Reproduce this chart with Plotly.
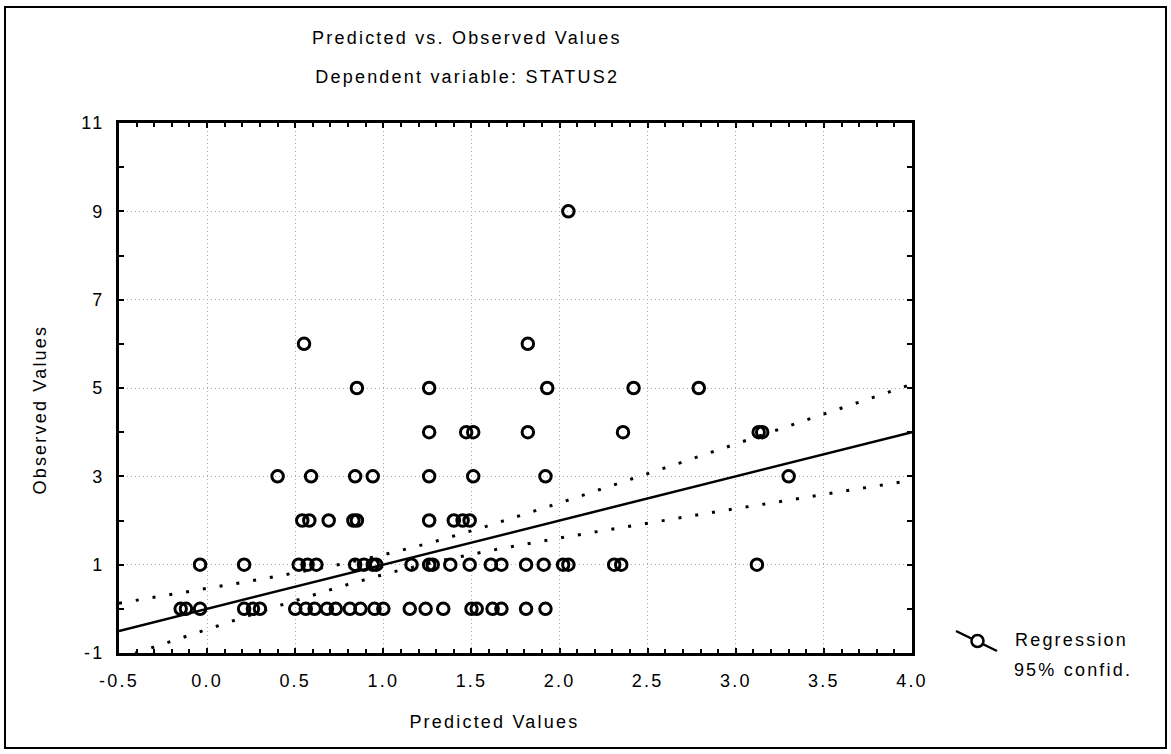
import numpy as np
import plotly.graph_objects as go

pred_obs0 = [-0.15, -0.12, -0.04, 0.21, 0.26, 0.30, 0.50, 0.56, 0.61, 0.68, 0.73, 0.81,
             0.87, 0.95, 1.00, 1.15, 1.24, 1.34, 1.50, 1.53, 1.62, 1.67, 1.81, 1.92]
pred_obs1 = [-0.04, 0.21, 0.52, 0.57, 0.62, 0.84, 0.89, 0.94, 0.96, 1.16, 1.26, 1.28,
             1.38, 1.49, 1.61, 1.67, 1.81, 1.91, 2.02, 2.05, 2.31, 2.35, 3.12]
pred_obs2 = [0.54, 0.58, 0.69, 0.83, 0.85, 1.26, 1.40, 1.45, 1.49]
pred_obs3 = [0.40, 0.59, 0.84, 0.94, 1.26, 1.51, 1.92, 3.30]
pred_obs4 = [1.26, 1.47, 1.51, 1.82, 2.36, 3.13, 3.15]
pred_obs5 = [0.85, 1.26, 1.93, 2.42, 2.79]
pred_obs6 = [0.55, 1.82]
pred_obs9 = [2.05]

groups = {0: pred_obs0, 1: pred_obs1, 2: pred_obs2, 3: pred_obs3, 4: pred_obs4,
          5: pred_obs5, 6: pred_obs6, 9: pred_obs9}

# Regression line and 95% confidence band parameters
reg_intercept = 0.0
reg_slope = 1.0
ci_center_x = 1.1        # x where the band is narrowest
ci_half_center = 0.22    # half-width of the band at its narrowest
ci_half_growth = 0.367   # growth of the half-width away from the centre

x_tickvals = [-0.5, 0.0, 0.5, 1.0, 1.5, 2.0, 2.5, 3.0, 3.5, 4.0]
x_ticktext = ["-0.5", "0.0", "0.5", "1.0", "1.5", "2.0", "2.5", "3.0", "3.5", "4.0"]
y_tickvals = [-1, 1, 3, 5, 7, 9, 11]
y_ticktext = ["-1", "1", "3", "5", "7", "9", "11"]

xs = np.array([v for k in groups for v in groups[k]], dtype=float)
ys = np.array([k for k in groups for _ in groups[k]], dtype=float)

xg = np.linspace(-0.5, 4.0, 200)
yg = reg_intercept + reg_slope * xg
half = np.sqrt(ci_half_center ** 2 + (ci_half_growth * (xg - ci_center_x)) ** 2)

FONT = "Liberation Sans, Arial, sans-serif"
FS = 18

fig = go.Figure()
fig.add_trace(go.Scatter(x=xg, y=yg + half, mode="lines",
                         line=dict(color="black", width=3, dash="3px,14px"),
                         hoverinfo="skip", showlegend=False))
fig.add_trace(go.Scatter(x=xg, y=yg - half, mode="lines",
                         line=dict(color="black", width=3, dash="3px,14px"),
                         hoverinfo="skip", showlegend=False))
fig.add_trace(go.Scatter(x=xg, y=yg, mode="lines",
                         line=dict(color="black", width=2.5),
                         hoverinfo="skip", showlegend=False))
fig.add_trace(go.Scatter(x=xs, y=ys, mode="markers",
                         marker=dict(symbol="circle-open", size=11.5, color="black",
                                     line=dict(width=3, color="black")),
                         showlegend=False))

W, H = 1171, 754
L, R, T, B = 119, 259, 123, 101
pw, ph = W - L - R, H - T - B

def px(x):
    return (x - L) / pw

def py(y):
    return (H - B - y) / ph

fig.update_layout(
    width=W, height=H,
    margin=dict(l=L, r=R, t=T, b=B),
    paper_bgcolor="white", plot_bgcolor="white",
    font=dict(family=FONT, size=FS, color="black"),
    showlegend=False,
    xaxis=dict(range=[-0.5, 4.0], tickvals=x_tickvals, ticktext=x_ticktext,
               showline=True, linecolor="black", linewidth=3, mirror="allticks",
               ticks="inside", ticklen=5, tickwidth=2, tickcolor="black",
               minor=dict(dtick=0.1, tick0=-0.5, ticks="inside", ticklen=4,
                          tickwidth=2, tickcolor="black", showgrid=False),
               showgrid=True, gridcolor="#aaaaaa", griddash="1px,3px", gridwidth=1,
               zeroline=False, ticklabelstandoff=9,
               tickfont=dict(family=FONT, size=FS, color="black")),
    yaxis=dict(range=[-1, 11], tickvals=y_tickvals, ticktext=y_ticktext,
               showline=True, linecolor="black", linewidth=3, mirror="allticks",
               ticks="inside", ticklen=5, tickwidth=2, tickcolor="black",
               minor=dict(dtick=1, tick0=-1, ticks="inside", ticklen=5,
                          tickwidth=2, tickcolor="black", showgrid=False),
               showgrid=True, gridcolor="#aaaaaa", griddash="1px,3px", gridwidth=1,
               zeroline=False, ticklabelstandoff=8,
               tickfont=dict(family=FONT, size=FS, color="black")),
)

# Outer frame
fig.add_shape(type="rect", xref="paper", yref="paper",
              x0=px(5), x1=px(1166), y0=py(748), y1=py(7),
              line=dict(color="black", width=2), fillcolor="rgba(0,0,0,0)", layer="below")

# Titles and axis titles
ann = [
    dict(text="Predicted vs. Observed Values", x=px(467), y=py(38)),
    dict(text="Dependent variable: STATUS2", x=px(467), y=py(77)),
    dict(text="Predicted Values", x=px(494), y=py(722)),
    dict(text="Observed Values", x=px(40), y=py(410), textangle=-90),
]
for a in ann:
    fig.add_annotation(xref="paper", yref="paper", showarrow=False,
                       xanchor="center", yanchor="middle",
                       font=dict(family=FONT, size=FS, color="black"), **a)

# Legend (custom)
fig.add_shape(type="line", xref="paper", yref="paper",
              x0=px(956), y0=py(631), x1=px(997), y1=py(651),
              line=dict(color="black", width=2.5))
fig.add_shape(type="circle", xref="paper", yref="paper",
              x0=px(971.5), x1=px(983.5), y0=py(647), y1=py(635),
              line=dict(color="black", width=2.5), fillcolor="white")
fig.add_annotation(xref="paper", yref="paper", showarrow=False, xanchor="left",
                   yanchor="middle", x=px(1024), y=py(640), text="Regression",
                   font=dict(family=FONT, size=FS, color="black"))
fig.add_annotation(xref="paper", yref="paper", showarrow=False, xanchor="left",
                   yanchor="middle", x=px(1024), y=py(670), text="95% confid.",
                   font=dict(family=FONT, size=FS, color="black"))

post = ("document.body.style.margin='0';document.body.style.overflow='hidden';"
        "var gd=document.getElementById('{plot_id}');"
        "gd.querySelectorAll('text').forEach(function(t){t.style.letterSpacing='2.2px';});")
fig.write_html("out.html", post_script=post, config={"displayModeBar": False})
